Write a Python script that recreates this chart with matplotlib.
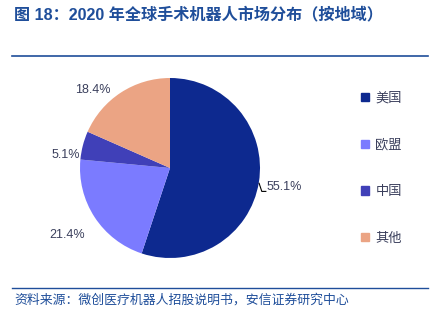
import matplotlib
matplotlib.use("Agg")
import matplotlib.pyplot as plt
import numpy as np

plt.rcParams['font.family'] = ['Liberation Sans', 'Noto Sans CJK SC', 'DejaVu Sans']

regions = ['美国', '欧盟', '中国', '其他']
shares = [55.1, 21.4, 5.1, 18.4]
colors = ['#0d298f', '#7b7bff', '#4040b8', '#eba484']

title = '图 18：2020 年全球手术机器人市场分布（按地域）'
source = '资料来源：微创医疗机器人招股说明书，安信证券研究中心'

fig = plt.figure(figsize=(4.36, 3.25), dpi=100)

# header / footer
fig.text(14 / 436, 1 - 14 / 325, title, fontsize=11.6, fontweight='bold',
         color='#1f4e9a', va='center', ha='left',
         family=['Liberation Sans', 'Noto Sans CJK SC'])
fig.add_artist(plt.Line2D([12 / 436, 428 / 436], [1 - 56 / 325] * 2,
                          color='#1f4e9a', lw=1.2))
fig.add_artist(plt.Line2D([12 / 436, 428 / 436], [1 - 288 / 325] * 2,
                          color='#1f4e9a', lw=1.0))
fig.text(14 / 436, 1 - 300 / 325, source, fontsize=9.3, color='#1f4e9a',
         va='center', ha='left', family=['Noto Sans CJK SC'])

# pie: centre (170, 168) px, radius ~90 px
cx, cy, r = 170 / 436, 1 - 168 / 325, 90
ax = fig.add_axes([cx - r / 436, cy - r / 325, 2 * r / 436, 2 * r / 325])
wedges, _ = ax.pie(shares, colors=colors, startangle=90, counterclock=False,
                   wedgeprops=dict(linewidth=0))
ax.set_xlim(-1, 1)
ax.set_ylim(-1, 1)
ax.set_aspect('auto')
ax.axis('off')

# percent labels placed around the wedges
label_pos = [(1.07, -0.21), (-1.14, -0.75), (-1.16, 0.14), (-0.86, 0.87)]
for w, v, (lx, ly) in zip(wedges, shares, label_pos):
    ha = 'left' if lx > 0 else 'center'
    ax.text(lx, ly, f'{v:.1f}%', fontsize=9, color='#3a3f5c',
            ha=ha, va='center', clip_on=False)
# leader for the large wedge
ax.plot([0.99, 1.02, 1.065], [-0.17, -0.26, -0.26], color='black', lw=0.8,
        clip_on=False)

# legend
leg = fig.legend(handles=[plt.Rectangle((0, 0), 1, 1, color=c) for c in colors],
                 labels=regions, loc='upper left',
                 bbox_to_anchor=(349 / 436, 1 - 80 / 325), frameon=False,
                 handlelength=0.6, handleheight=0.6, handletextpad=0.5,
                 labelspacing=2.55, prop={'family': ['Noto Sans CJK SC'], 'size': 9.5})
for t in leg.get_texts():
    t.set_color('#3a3f5c')

fig.savefig('out.png', dpi=100)
